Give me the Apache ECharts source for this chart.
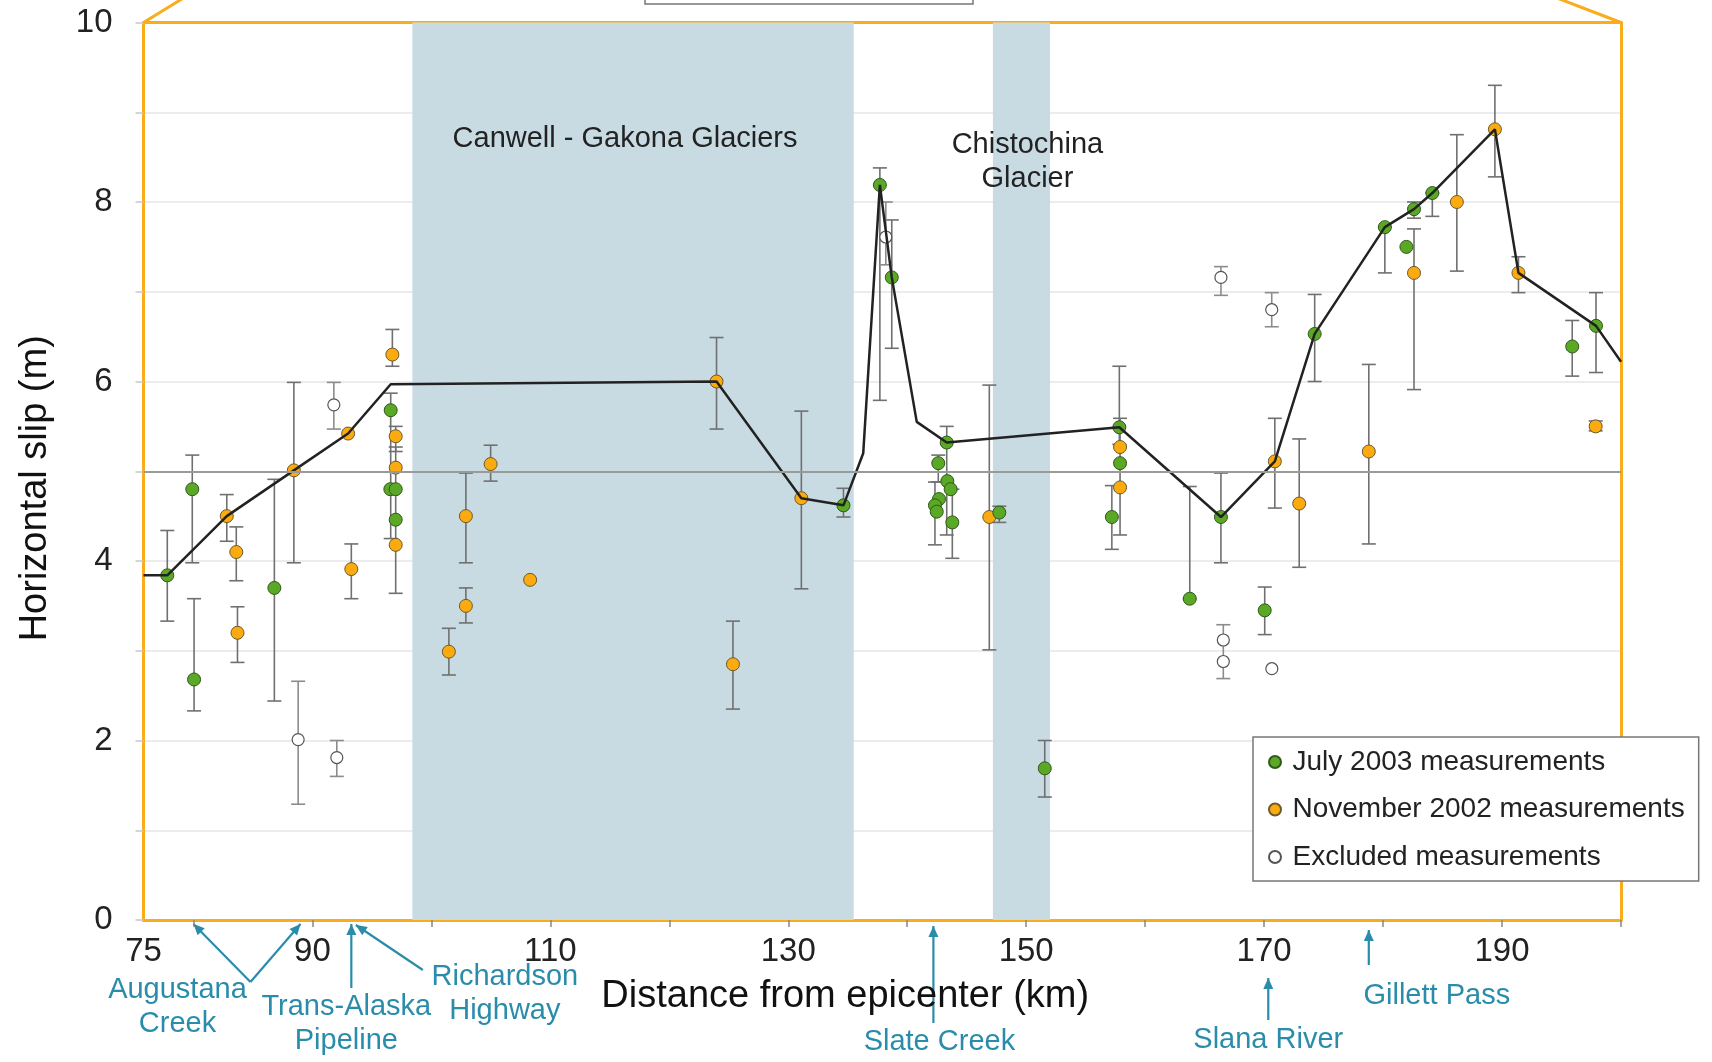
<!DOCTYPE html>
<html>
<head>
<meta charset="utf-8">
<title>Horizontal slip along the rupture</title>
<script src="https://cdn.jsdelivr.net/npm/echarts@6.0.0/dist/echarts.min.js"></script>
<style>
  html, body { margin: 0; padding: 0; background: #fff; }
  #main { width: 1712px; height: 1062px; }
</style>
</head>
<body>
<div id="main"></div>
<script>
  // x axis (km): the plotted range starts a little after 75
  var xMin = 75.8, xMax = 200;
  var xTickValues = [80, 90, 100, 110, 120, 130, 140, 150, 160, 170, 180, 190, 200];
  var xLabelValues = [75.8, 90, 110, 130, 150, 170, 190];
  var xLabelTexts = ['75', '90', '110', '130', '150', '170', '190'];

  // points: [km, slip (m), lower, upper]  (null = no error bar)
  var july2003 = [
    [77.8, 3.84, 3.33, 4.34], [79.9, 4.80, 3.98, 5.18], [80.05, 2.68, 2.33, 3.58],
    [86.8, 3.70, 2.44, 4.91], [96.58, 5.68, 4.25, 5.87], [96.55, 4.80, null, null],
    [97.0, 4.80, null, null], [97.0, 4.46, null, null], [134.64, 4.62, 4.49, 4.81],
    [137.7, 8.19, 5.79, 8.38], [138.7, 7.16, 6.37, 7.80], [143.32, 5.32, 4.29, 5.50],
    [142.61, 5.09, 4.88, 5.18], [143.37, 4.89, null, null], [143.65, 4.80, null, null],
    [142.67, 4.69, null, null], [142.33, 4.62, 4.18, 4.88], [142.48, 4.55, null, null],
    [143.79, 4.43, 4.03, 4.80], [147.74, 4.54, 4.43, 4.61], [151.56, 1.69, 1.37, 2.00],
    [157.83, 5.49, 5.30, 6.17], [157.89, 5.09, null, null], [157.2, 4.49, 4.13, 4.84],
    [166.37, 4.49, 3.98, 4.98], [163.75, 3.58, 3.58, 4.83], [170.05, 3.45, 3.18, 3.71],
    [174.25, 6.53, 6.00, 6.97], [180.15, 7.72, 7.21, 7.72], [181.96, 7.50, null, null],
    [182.6, 7.92, 7.82, 8.00], [184.14, 8.10, 7.84, 8.10], [195.9, 6.39, 6.06, 6.68],
    [197.9, 6.62, 6.10, 6.99]
  ];
  var nov2002 = [
    [82.8, 4.50, 4.22, 4.74], [83.6, 4.10, 3.78, 4.38], [83.7, 3.20, 2.87, 3.49],
    [88.44, 5.01, 3.98, 5.99], [93.0, 5.42, null, null], [93.27, 3.91, 3.58, 4.19],
    [96.72, 6.30, 6.17, 6.58], [97.0, 5.39, 5.22, 5.50], [97.0, 5.04, 3.64, 5.27],
    [97.0, 4.18, null, null], [101.47, 2.99, 2.73, 3.25], [102.9, 4.50, 3.98, 4.98],
    [102.9, 3.50, 3.31, 3.70], [104.98, 5.08, 4.89, 5.29], [108.3, 3.79, null, null],
    [123.97, 6.00, 5.47, 6.49], [125.35, 2.85, 2.35, 3.33], [131.1, 4.70, 3.69, 5.67],
    [146.9, 4.49, 3.01, 5.96], [157.89, 5.27, null, null], [157.89, 4.82, 4.29, 5.59],
    [170.9, 5.11, 4.59, 5.59], [172.95, 4.64, 3.93, 5.36], [178.8, 5.22, 4.19, 6.19],
    [182.6, 7.21, 5.91, 7.70], [186.2, 8.00, 7.23, 8.75], [189.4, 8.81, 8.28, 9.30],
    [191.38, 7.21, 6.99, 7.39], [197.87, 5.50, 5.45, 5.56]
  ];
  var excluded = [
    [88.8, 2.01, 1.29, 2.66], [91.8, 5.74, 5.47, 5.99], [92.05, 1.81, 1.60, 2.00],
    [138.2, 7.61, 7.30, 8.00], [166.37, 7.16, 6.96, 7.28], [170.64, 6.80, 6.61, 6.99],
    [166.57, 3.12, 2.69, 3.29], [166.57, 2.88, null, null], [170.65, 2.80, null, null]
  ];

  // preferred slip curve
  var slipLineKm = [75.8, 77.8, 82.8, 88.44, 93.0, 96.58, 123.97, 131.1, 134.64, 136.3, 137.7,
    138.7, 140.8, 143.32, 157.83, 166.37, 170.9, 174.25, 180.15, 182.6, 184.14, 189.4, 191.38, 197.9, 200];
  var slipLineM = [3.84, 3.84, 4.50, 5.01, 5.42, 5.97, 6.00, 4.70, 4.62, 5.20, 8.19,
    7.16, 5.55, 5.32, 5.49, 4.49, 5.11, 6.53, 7.72, 7.92, 8.10, 8.81, 7.21, 6.62, 6.22];

  var bandStart = [98.4, 147.2];
  var bandEnd = [135.5, 152.0];
  var bandNames = ['Canwell - Gakona Glaciers', 'Chistochina\nGlacier'];
  var referenceSlip = 5;

  // place names below the axis and the km they point at
  var placeNames = ['Augustana\nCreek', 'Trans-Alaska\nPipeline', 'Richardson\nHighway',
    'Slate Creek', 'Slana River', 'Gillett Pass'];
  var placeKm = [[80.0, 89.0], [93.27], [93.65], [142.2], [170.35], [178.8]];

  var ORANGE = '#f9ad1c';
  var TEAL = '#2a8cab';
  var FONT = 'Liberation Sans, Arial, Helvetica, sans-serif';

  function errRows(points) {
    return points.filter(function (p) { return p[2] !== null; })
      .map(function (p) { return [p[0], p[2], p[3]]; });
  }

  function renderErrorBar(params, api) {
    var km = api.value(0);
    var top = api.coord([km, api.value(2)]);
    var bot = api.coord([km, api.value(1)]);
    var cap = 7;
    var style = { stroke: params.seriesName === 'errExcluded' ? '#8c8c8c' : '#707070', lineWidth: 1.6 };
    return {
      type: 'group',
      children: [
        { type: 'line', shape: { x1: top[0], y1: top[1], x2: bot[0], y2: bot[1] }, style: style },
        { type: 'line', shape: { x1: top[0] - cap, y1: top[1], x2: top[0] + cap, y2: top[1] }, style: style },
        { type: 'line', shape: { x1: bot[0] - cap, y1: bot[1], x2: bot[0] + cap, y2: bot[1] }, style: style }
      ]
    };
  }

  // label placement for each band (layout only)
  var bandLabelLayout = [
    { distance: 99, offset: [-8, 0] },
    { distance: 105, offset: [6, 0] }
  ];
  var bands = bandStart.map(function (s, i) {
    return [{
      name: bandNames[i], xAxis: s, yAxis: 0,
      label: { distance: bandLabelLayout[i].distance, offset: bandLabelLayout[i].offset }
    }, { xAxis: bandEnd[i], yAxis: 10 }];
  });

  var chart = echarts.init(document.getElementById('main'));

  chart.setOption({
    animation: false,
    backgroundColor: '#fff',
    textStyle: { fontFamily: FONT },
    grid: { left: 143.5, right: 91, top: 22.5, bottom: 142, outerBoundsMode: 'none' },
    legend: {
      data: ['July 2003 measurements', 'November 2002 measurements', 'Excluded measurements'],
      orient: 'vertical',
      left: 1253, top: 737,
      padding: [11, 14, 10, 15],
      itemGap: 19.5,
      itemWidth: 25, itemHeight: 12,
      icon: 'circle',
      backgroundColor: '#fff',
      borderColor: '#777', borderWidth: 1.5,
      textStyle: { fontSize: 28, color: '#222', lineHeight: 28, fontFamily: FONT },
      z: 10
    },
    xAxis: [{
      type: 'value', min: xMin, max: xMax,
      name: 'Distance from epicenter (km)',
      nameLocation: 'middle', nameGap: 58,
      nameTextStyle: { fontSize: 38, color: '#111', padding: [0, 74, 0, 0] },
      axisLine: { onZero: false, lineStyle: { color: ORANGE, width: 3 } },
      axisTick: { customValues: xTickValues, length: 7, lineStyle: { color: '#888', width: 1.5 } },
      axisLabel: {
        customValues: xLabelValues, fontSize: 33, color: '#222', margin: 15,
        formatter: function (v) {
          var i = xLabelValues.indexOf(v);
          return i >= 0 ? xLabelTexts[i] : '';
        }
      },
      splitLine: { show: false }
    }, {
      type: 'value', min: xMin, max: xMax, position: 'top',
      axisLine: { onZero: false, lineStyle: { color: ORANGE, width: 3 } },
      axisTick: { show: false }, axisLabel: { show: false }, splitLine: { show: false }
    }],
    yAxis: [{
      type: 'value', min: 0, max: 10, interval: 1,
      name: 'Horizontal slip (m)',
      nameLocation: 'middle', nameGap: 89, nameRotate: 90,
      nameTextStyle: { fontSize: 38, color: '#111', padding: [0, 34, 0, 0] },
      axisLine: { show: true, onZero: false, lineStyle: { color: ORANGE, width: 3 } },
      axisTick: { show: true, length: 8, lineStyle: { color: '#c8c8c8', width: 1.5 } },
      axisLabel: {
        fontSize: 33, color: '#222', margin: 31,
        formatter: function (v) { return v % 2 === 0 ? String(v) : ''; }
      },
      splitLine: { lineStyle: { color: '#e6e6e6', width: 1.5 } }
    }, {
      type: 'value', min: 0, max: 10, position: 'right',
      axisLine: { show: true, onZero: false, lineStyle: { color: ORANGE, width: 3 } },
      axisTick: { show: false }, axisLabel: { show: false }, splitLine: { show: false }
    }],
    series: [
      {
        name: 'bands', type: 'line', data: [], z: -1, silent: true,
        markArea: {
          silent: true,
          itemStyle: { color: '#c8dbe3', opacity: 1 },
          label: {
            show: true, position: 'insideTop', distance: 99, formatter: '{b}',
            fontSize: 29, lineHeight: 34, color: '#222', fontFamily: FONT
          },
          data: bands
        }
      },
      {
        name: 'errJuly', type: 'custom', renderItem: renderErrorBar,
        encode: { x: 0, y: [1, 2] }, data: errRows(july2003), z: 2, silent: true,
        markLine: {
          silent: true, symbol: 'none', label: { show: false },
          lineStyle: { color: '#9a9a9a', width: 2, type: 'solid' },
          data: [{ yAxis: referenceSlip }]
        }
      },
      {
        name: 'errNov', type: 'custom', renderItem: renderErrorBar,
        encode: { x: 0, y: [1, 2] }, data: errRows(nov2002), z: 2, silent: true
      },
      {
        name: 'errExcluded', type: 'custom', renderItem: renderErrorBar,
        encode: { x: 0, y: [1, 2] }, data: errRows(excluded), z: 2, silent: true
      },
      {
        name: 'Excluded measurements', type: 'scatter', symbolSize: 12, z: 3,
        itemStyle: { color: '#ffffff', borderColor: '#555', borderWidth: 1.2, opacity: 1 },
        data: excluded.map(function (p) { return [p[0], p[1]]; })
      },
      {
        name: 'November 2002 measurements', type: 'scatter', symbolSize: 13, z: 3,
        itemStyle: { color: '#fbab0f', borderColor: '#6b5a2a', borderWidth: 1, opacity: 1 },
        data: nov2002.map(function (p) { return [p[0], p[1]]; })
      },
      {
        name: 'July 2003 measurements', type: 'scatter', symbolSize: 13, z: 3,
        itemStyle: { color: '#5aa825', borderColor: '#2f5a1a', borderWidth: 1, opacity: 1 },
        data: july2003.map(function (p) { return [p[0], p[1]]; })
      },
      {
        name: 'slip curve', type: 'line', z: 4, showSymbol: false, silent: true,
        lineStyle: { color: '#222', width: 2.5 },
        data: slipLineKm.map(function (k, i) { return [k, slipLineM[i]]; })
      }
    ]
  });

  // ---- annotations under the axis, placed with the axis scale ----
  function px(km) { return chart.convertToPixel({ xAxisIndex: 0 }, km); }

  function arrowHead(tip, from) {
    var dx = tip[0] - from[0], dy = tip[1] - from[1];
    var len = Math.sqrt(dx * dx + dy * dy);
    var ux = dx / len, uy = dy / len;
    var L = 11, W = 5;
    var bx = tip[0] - ux * L, by = tip[1] - uy * L;
    return {
      type: 'polygon',
      shape: { points: [tip, [bx - uy * W, by + ux * W], [bx + uy * W, by - ux * W]] },
      style: { fill: TEAL }
    };
  }

  function seg(a, b) {
    return { type: 'line', shape: { x1: a[0], y1: a[1], x2: b[0], y2: b[1] }, style: { stroke: TEAL, lineWidth: 2.2 } };
  }

  // layout per place: tip y, tail offset [dx from tip, y], text [dx from tip, y]
  var placeLayout = [
    { tipY: 924, tail: [57, 982], text: [-16, 1007] },
    { tipY: 924, tail: [0, 988], text: [-5, 1024] },
    { tipY: 925, tail: [67, 970], text: [149, 994] },
    { tipY: 926, tail: [0, 1023], text: [6, 1042] },
    { tipY: 978, tail: [0, 1020], text: [0, 1040] },
    { tipY: 930, tail: [0, 965], text: [68, 996] }
  ];

  var g = [];
  placeNames.forEach(function (name, i) {
    var lay = placeLayout[i];
    var x0 = px(placeKm[i][0]);
    var tail = [x0 + lay.tail[0], lay.tail[1]];
    placeKm[i].forEach(function (km) {
      var tip = [px(km), lay.tipY];
      g.push(seg(tail, tip));
      g.push(arrowHead(tip, tail));
    });
    g.push({
      type: 'text', z: 5,
      style: {
        text: name, x: x0 + lay.text[0], y: lay.text[1],
        align: 'center', verticalAlign: 'middle',
        fontSize: 29, lineHeight: 34, fill: TEAL, fontFamily: FONT
      }
    });
  });

  // leftovers of the source figure above the frame
  var tl = chart.convertToPixel({ gridIndex: 0 }, [xMin, 10]);
  var tr = chart.convertToPixel({ gridIndex: 0 }, [xMax, 10]);
  g.push({ type: 'line', shape: { x1: tl[0], y1: tl[1], x2: tl[0] + 40, y2: -2 }, style: { stroke: ORANGE, lineWidth: 3 } });
  g.push({ type: 'line', shape: { x1: tr[0], y1: tr[1], x2: tr[0] - 64, y2: -2 }, style: { stroke: ORANGE, lineWidth: 3 } });
  g.push({ type: 'rect', shape: { x: 645, y: -20, width: 328, height: 24 }, style: { fill: '#fff', stroke: '#777', lineWidth: 1.5 } });

  chart.setOption({ graphic: g });
</script>
</body>
</html>
